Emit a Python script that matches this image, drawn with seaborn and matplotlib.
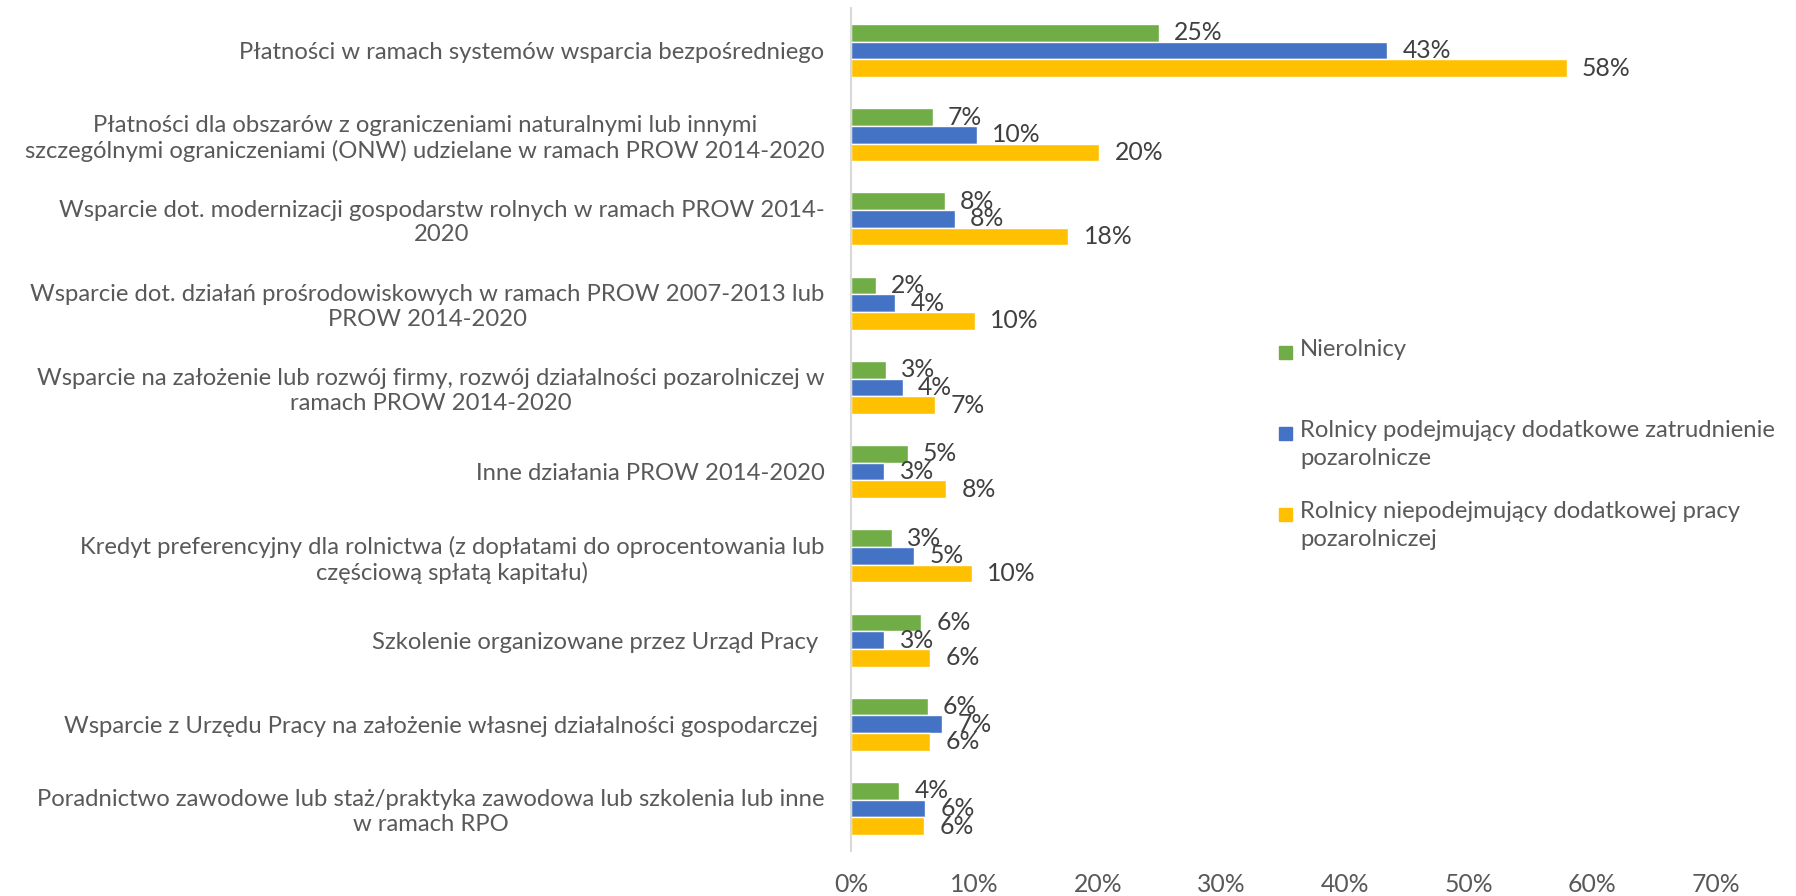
import pandas as pd

import matplotlib
matplotlib.use('Agg')
import matplotlib.pyplot as plt
from matplotlib.patches import Rectangle
from matplotlib.ticker import PercentFormatter

import seaborn as sns

CATEGORIES = [
    'Płatności w ramach systemów wsparcia bezpośredniego',
    'Płatności dla obszarów z ograniczeniami naturalnymi lub innymi\n'
    'szczególnymi ograniczeniami (ONW) udzielane w ramach PROW 2014-2020',
    'Wsparcie dot. modernizacji gospodarstw rolnych w ramach PROW 2014-\n2020',
    'Wsparcie dot. działań prośrodowiskowych w ramach PROW 2007-2013 lub\n'
    'PROW 2014-2020',
    'Wsparcie na założenie lub rozwój firmy, rozwój działalności pozarolniczej w\n'
    'ramach PROW 2014-2020',
    'Inne działania PROW 2014-2020',
    'Kredyt preferencyjny dla rolnictwa (z dopłatami do oprocentowania lub\n'
    'częściową spłatą kapitału)',
    'Szkolenie organizowane przez Urząd Pracy ',
    'Wsparcie z Urzędu Pracy na założenie własnej działalności gospodarczej ',
    'Poradnictwo zawodowe lub staż/praktyka zawodowa lub szkolenia lub inne\n'
    'w ramach RPO',
]

SERIES = [
    'Nierolnicy',
    'Rolnicy podejmujący dodatkowe zatrudnienie\npozarolnicze',
    'Rolnicy niepodejmujący dodatkowej pracy\npozarolniczej',
]

# percent values
NIEROLNICY = [24.9, 6.6, 7.6, 2.0, 2.8, 4.6, 3.3, 5.7, 6.2, 3.9]
ROLNICY_DODATKOWE = [43.4, 10.2, 8.4, 3.6, 4.2, 2.7, 5.1, 2.7, 7.4, 6.0]
ROLNICY_BEZ = [57.9, 20.1, 17.6, 10.0, 6.8, 7.7, 9.8, 6.4, 6.4, 5.9]

COLORS = ['#70AD47', '#4472C4', '#FFC000']
TEXT_COLOR = '#595959'
LABEL_COLOR = '#404040'
FONT = 'Lato'
FS = 17.2       # category labels, ticks, legend
FS_LABEL = 17.8  # data labels


def build_frame():
    rows = []
    for name, values in zip(SERIES, [NIEROLNICY, ROLNICY_DODATKOWE, ROLNICY_BEZ]):
        for cat, v in zip(CATEGORIES, values):
            rows.append({'kategoria': cat, 'grupa': name, 'udzial': v / 100})
    return pd.DataFrame(rows)


def main():
    df = build_frame()
    sns.set_theme(style='white')
    plt.rcParams['font.family'] = [FONT, 'DejaVu Sans']

    fig = plt.figure(figsize=(17.96, 8.96), dpi=100)
    ax = fig.add_axes([0.4738, 0.0507, 0.9555 - 0.4738, 0.9906 - 0.0507])

    sns.barplot(data=df, y='kategoria', x='udzial', hue='grupa',
                orient='h', palette=COLORS, width=0.63, gap=0,
                saturation=1, legend=False, ax=ax)

    for cont in ax.containers:
        labels = [f'{round(b.get_width() * 100)}%' for b in cont]
        ax.bar_label(cont, labels=labels, padding=11, fontsize=FS_LABEL,
                     color=LABEL_COLOR, family=[FONT, 'DejaVu Sans'])

    ax.set_xlim(0, 0.7)
    ax.set_ylim(9.5, -0.5)
    ax.set_xticks([i / 10 for i in range(8)])
    ax.xaxis.set_major_formatter(PercentFormatter(1.0, decimals=0))
    ax.set_xlabel('')
    ax.set_ylabel('')
    ax.tick_params(axis='x', length=0, pad=16, labelsize=FS_LABEL,
                   labelcolor=TEXT_COLOR)
    ax.tick_params(axis='y', length=0, pad=19, labelsize=FS,
                   labelcolor=TEXT_COLOR)
    ax.set_yticks(range(len(CATEGORIES)))
    ax.set_yticklabels(CATEGORIES, multialignment='center')
    ax.grid(False)

    for side in ['top', 'right', 'bottom']:
        ax.spines[side].set_visible(False)
    ax.spines['left'].set_color('#D9D9D9')
    ax.spines['left'].set_linewidth(1.5)

    # legend drawn Excel-style: marker next to the first line of each entry
    legend_rows = [352, 433, 514]
    for name, color, y in zip(SERIES, COLORS, legend_rows):
        fy = 1 - y / 896
        fig.patches.append(Rectangle((1279 / 1796, fy - 7 / 896),
                                     13 / 1796, 13 / 896,
                                     transform=fig.transFigure,
                                     color=color))
        fig.text(1300 / 1796, fy + 13 / 896, name, ha='left', va='top',
                 fontsize=FS, color=TEXT_COLOR, linespacing=1.4)

    fig.savefig('out.png', dpi=100)


if __name__ == '__main__':
    main()
